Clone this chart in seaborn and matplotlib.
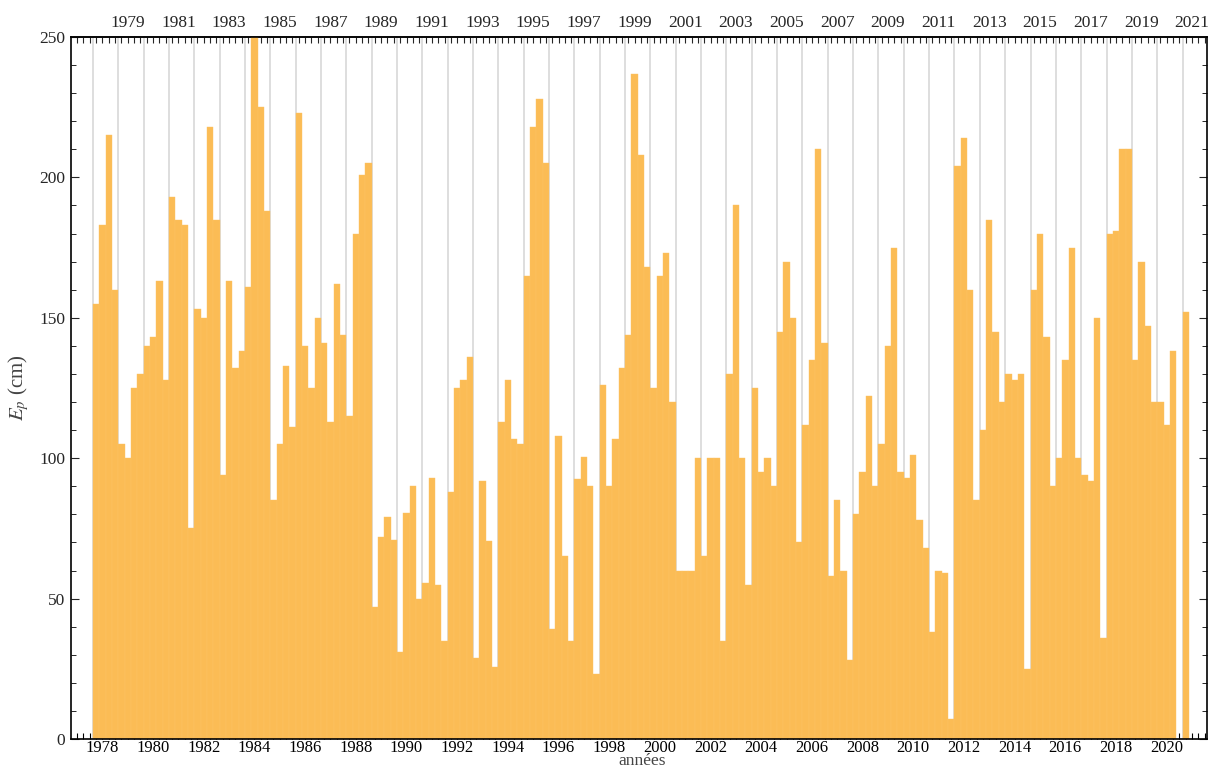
import numpy as np
import pandas as pd
import matplotlib
matplotlib.use("Agg")
import matplotlib.pyplot as plt
from matplotlib.ticker import MultipleLocator, FixedLocator
import seaborn as sns

# ---------------- data ----------------
# Seasonal values (4 per hydrological year), first season starting at first_season
first_season = 1977.625
season_len = 0.25
ep = [
    155, 183, 215, 160,
    105, 100, 125, 130,
    140, 143, 163, 128,
    193, 185, 183, 75,
    153, 150, 218, 185,
    94, 163, 132, 138,
    161, 250, 225, 188,
    85, 105, 133, 111,
    223, 140, 125, 150,
    141, 113, 162, 144,
    115, 180, 201, 205,
    47, 72, 79, 71,
    31, 80.5, 90, 50,
    55.5, 93, 55, 35,
    88, 125, 128, 136,
    29, 92, 70.5, 25.5,
    113, 128, 107, 105,
    165, 218, 228, 205,
    39, 108, 65, 35,
    92.5, 100.5, 90, 23,
    126, 90, 107, 132,
    144, 237, 208, 168,
    125, 165, 173, 120,
    60, 60, 60, 100,
    65, 100, 100, 35,
    130, 190, 100, 55,
    125, 95, 100, 90,
    145, 170, 150, 70,
    112, 135, 210, 141,
    58, 85, 60, 28,
    80, 95, 122, 90,
    105, 140, 175, 95,
    93, 101, 78, 68,
    38, 60, 59, 7,
    204, 214, 160, 85,
    110, 185, 145, 120,
    130, 128, 130, 25,
    160, 180, 143, 90,
    100, 135, 175, 100,
    94, 92, 150, 36,
    180, 181, 210, 210,
    135, 170, 147, 120,
    120, 112, 138, 0,
    152,
]
bottom_years = list(range(1978, 2021, 2))
top_years = list(range(1979, 2022, 2))

# ---------------- style ----------------
sns.set_style("ticks")
plt.rcParams["font.family"] = ["Liberation Serif", "DejaVu Serif"]
plt.rcParams["mathtext.fontset"] = "stix"

bar_color = "#FBBC55"

n = len(ep)
edges = first_season + season_len * np.arange(n + 1)
centers = (edges[:-1] + edges[1:]) / 2
df = pd.DataFrame({"t": centers, "ep": np.asarray(ep, dtype=float)})

fig = plt.figure(figsize=(12.12, 7.69), dpi=100)
ax = fig.add_axes([71 / 1212, 1 - 739 / 769, (1207 - 71) / 1212, (739 - 37) / 769])

# year boundary grid lines
n_years = int(np.ceil(n / 4))
for k in range(n_years):
    ax.axvline(first_season + k, color="#d4d4d4", lw=1.1, zorder=0)

sns.histplot(data=df, x="t", weights="ep", bins=[float(e) for e in edges],
             color=bar_color, alpha=1, edgecolor="#fbc265", linewidth=0.3,
             ax=ax, zorder=2)

ax.set_xlim(1976.76, 2021.59)
ax.set_ylim(0, 250)

ax.xaxis.set_major_locator(FixedLocator(bottom_years))
ax.xaxis.set_minor_locator(MultipleLocator(0.25))
ax.yaxis.set_major_locator(MultipleLocator(50))
ax.yaxis.set_minor_locator(MultipleLocator(10))

ax.tick_params(axis="x", which="both", direction="in", length=4, width=0.8,
               bottom=True, top=False, labelsize=12, pad=1.0, colors="black")
ax.tick_params(axis="y", which="major", direction="in", length=6, width=0.8,
               left=True, right=True, labelsize=12.5, pad=4)
ax.tick_params(axis="y", which="minor", direction="in", length=3.5, width=0.7,
               left=True, right=True)

secax = ax.secondary_xaxis("top")
secax.xaxis.set_major_locator(FixedLocator(top_years))
secax.xaxis.set_minor_locator(MultipleLocator(0.25))
secax.tick_params(axis="x", which="both", direction="in", length=4, width=0.8,
                  labelsize=12.5, pad=4)

for s in ax.spines.values():
    s.set_visible(True)
    s.set_linewidth(1.2)
    s.set_color("black")
secax.spines["top"].set_linewidth(1.2)

ax.set_xlabel("")
fig.text(642 / 1212, 1 - 765 / 769, "années", fontsize=12.5, color="#444444",
         ha="center", va="baseline")
ax.set_ylabel("$E_p$ (cm)", fontsize=15, color="#444444", labelpad=6)

fig.savefig("out.png", dpi=100)
